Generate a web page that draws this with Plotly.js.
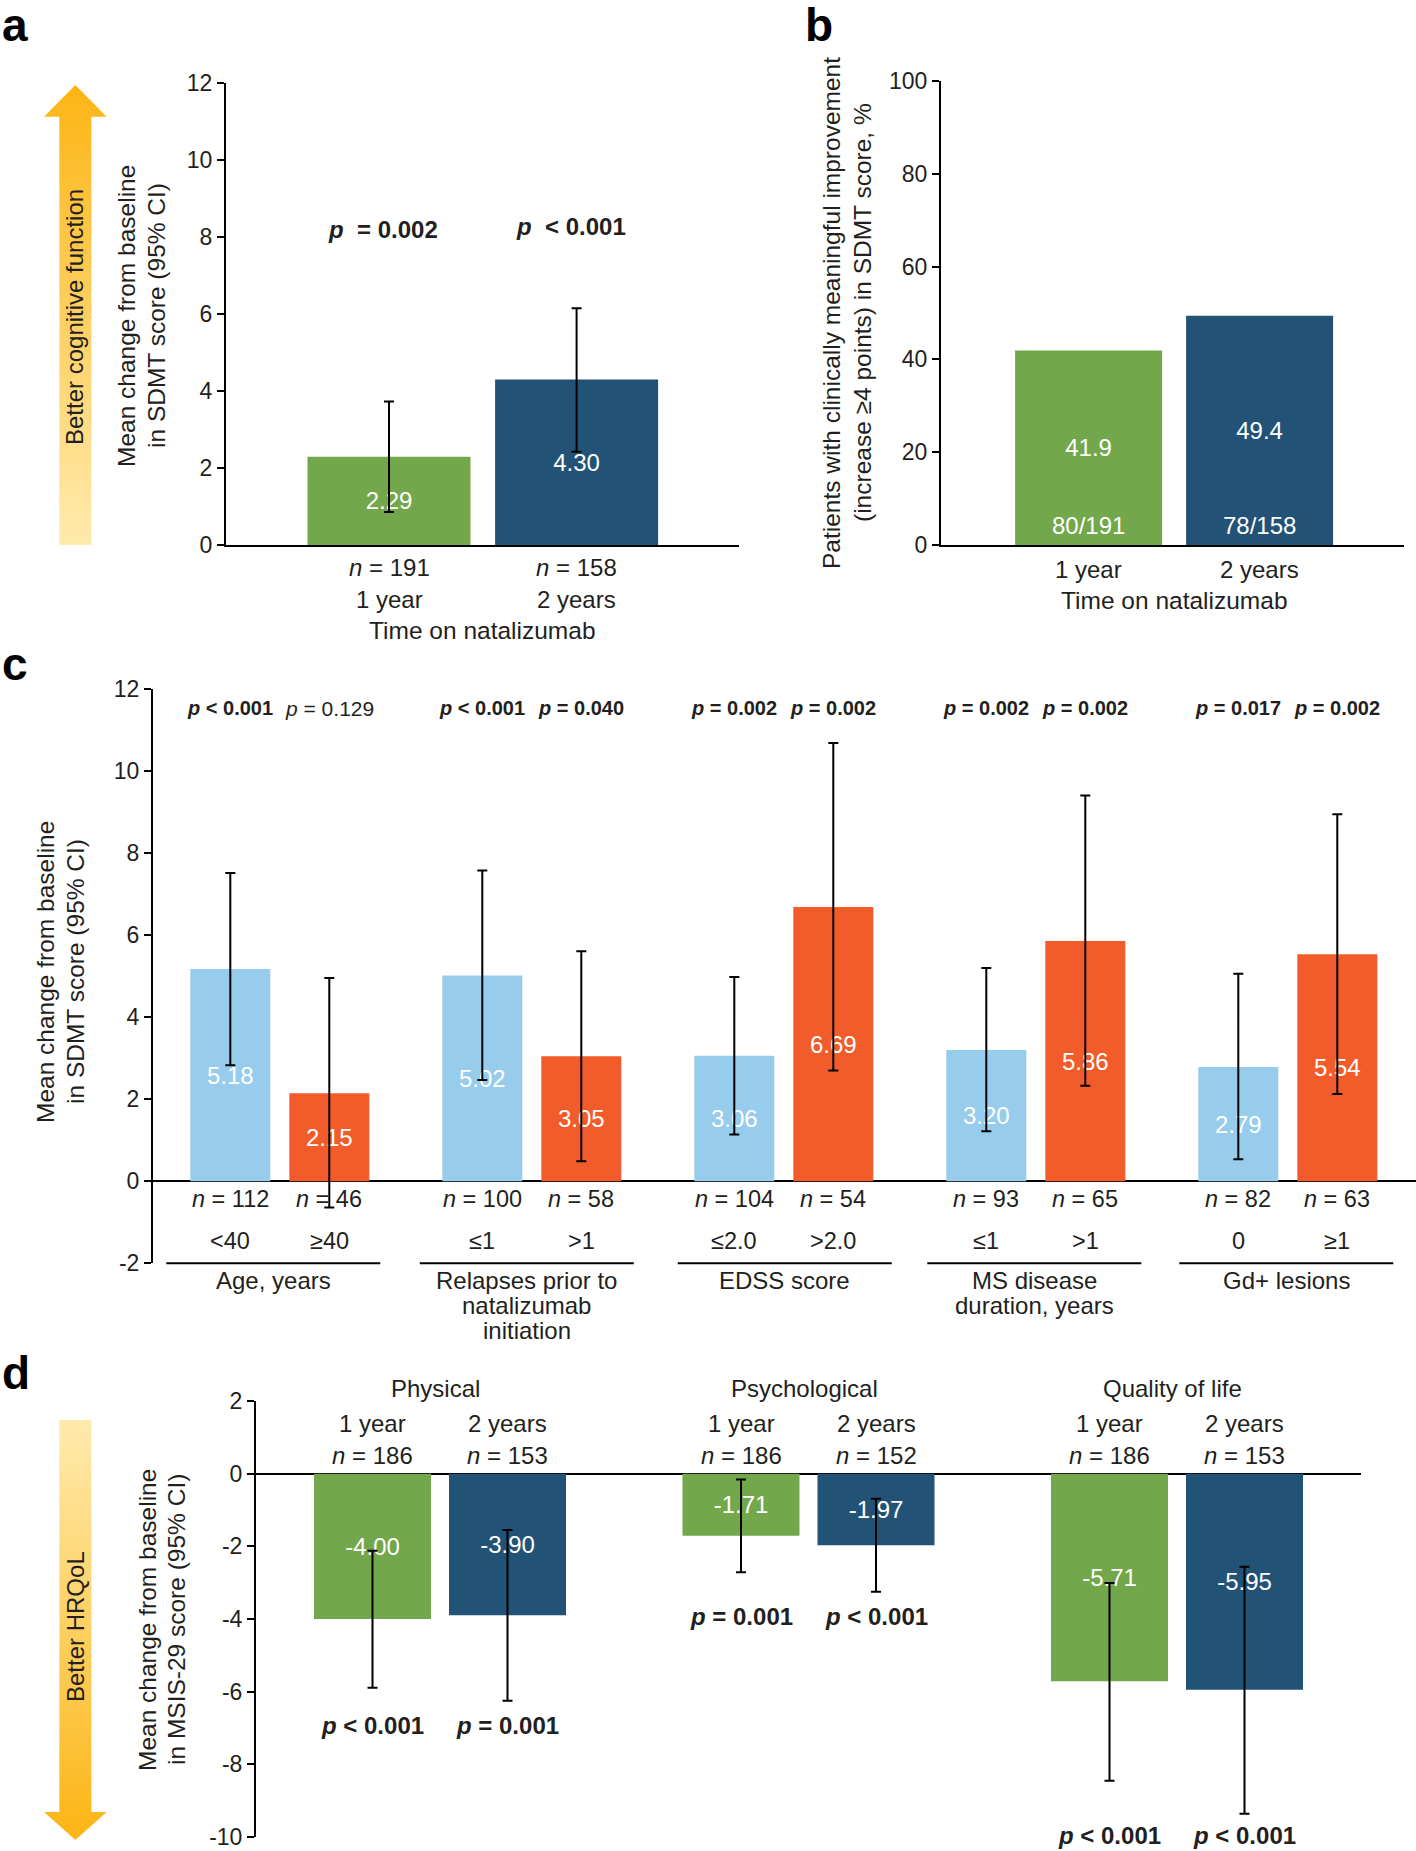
<!DOCTYPE html>
<html><head><meta charset="utf-8">
<script src="https://cdn.plot.ly/plotly-3.0.1.min.js"></script>
<style>html,body{margin:0;padding:0;background:#fff}#chart{width:1416px;height:1851px}</style>
</head><body><div id="chart"></div>
<script>
// ================= DATA =================
// Panel a: mean change in SDMT score
const aTimes = ['1 year', '2 years'];
const aN = [191, 158];
const aMean = [2.29, 4.30];
const aCILow = [0.86, 2.42];
const aCIHigh = [3.73, 6.15];
const aP = ['= 0.002', '< 0.001'];

// Panel b: patients with clinically meaningful improvement, %
const bTimes = ['1 year', '2 years'];
const bPercent = [41.9, 49.4];
const bCounts = ['80/191', '78/158'];

// Panel c: subgroups
const cGroupLines = [['Age, years'], ['Relapses prior to', 'natalizumab', 'initiation'], ['EDSS score'], ['MS disease', 'duration, years'], ['Gd+ lesions']];
const cLowLabel = ['<40', '≤1', '≤2.0', '≤1', '0'];
const cHighLabel = ['≥40', '>1', '>2.0', '>1', '≥1'];
const cLowN = [112, 100, 104, 93, 82];
const cHighN = [46, 58, 54, 65, 63];
const cLowMean = [5.18, 5.02, 3.06, 3.20, 2.79];
const cHighMean = [2.15, 3.05, 6.69, 5.86, 5.54];
const cLowCILow = [2.83, 2.47, 1.14, 1.22, 0.54];
const cLowCIHigh = [7.52, 7.58, 4.98, 5.20, 5.06];
const cHighCILow = [-0.64, 0.49, 2.70, 2.33, 2.13];
const cHighCIHigh = [4.96, 5.61, 10.69, 9.41, 8.95];
const cLowP = ['< 0.001', '< 0.001', '= 0.002', '= 0.002', '= 0.017'];
const cHighP = ['= 0.129', '= 0.040', '= 0.002', '= 0.002', '= 0.002'];
const cLowSig = [true, true, true, true, true];
const cHighSig = [false, true, true, true, true];

// Panel d: MSIS-29
const dDomains = ['Physical', 'Psychological', 'Quality of life'];
const dTimes = ['1 year', '2 years'];
const d1Mean = [-4.00, -1.71, -5.71];
const d2Mean = [-3.90, -1.97, -5.95];
const d1CILow = [-5.89, -2.71, -8.45];
const d1CIHigh = [-2.12, -0.16, -3.01];
const d2CILow = [-6.25, -3.25, -9.36];
const d2CIHigh = [-1.55, -0.69, -2.56];
const d1N = [186, 186, 186];
const d2N = [153, 152, 153];
const d1P = ['< 0.001', '= 0.001', '< 0.001'];
const d2P = ['= 0.001', '< 0.001', '< 0.001'];

// ================= STYLE / GEOMETRY =================
const W = 1416, H = 1851;
const FONT = '"Liberation Sans", Arial, Helvetica, sans-serif';
const INK = '#231f20';
const GREEN = '#72a74b', NAVY = '#225275', LBLUE = '#97ccec', ORANGE = '#f25c2a';
const px = v => v / W;
const py = v => 1 - v / H;
const esc = s => s.replace(/</g, '&lt;').replace(/>/g, '&gt;');
const pLab = (s, bold, gap) => bold ? `<b><i>p</i>${gap ? '\u00A0 ' : ' '}${esc(s)}</b>` : `<i>p</i> ${esc(s)}`;
const nLab = n => `<i>n</i> = ${n}`;

const GA = {left: 226, right: 739, top: 83, bottom: 545, c0: 389, c1: 576.6, bar: 163};
const GB = {left: 941, right: 1404, top: 81, bottom: 545, c0: 1088.6, c1: 1259.6, bar: 147};
const GC = {left: 153, right: 1416, top: 689.3, bottom: 1263.3, first: 230.3, barStep: 99, groupStep: 252, bar: 80,
  labelShift: [-6.5, -5, 1, -1.5, -1.5]};
const GD = {left: 256, right: 1361, top: 1401, bottom: 1837, first: 372.5, barStep: 135, groupStep: 368.5, bar: 117};

function pairRange(g) { const u = g.c1 - g.c0; return [(g.left - g.c0) / u, 1 + (g.right - g.c1) / u]; }
function gridRange(g) { return [(g.left - g.first) / g.barStep, (g.right - g.first) / g.barStep]; }
const cPos = (gi, m) => gi * GC.groupStep / GC.barStep + m;
const dPos = (gi, m) => gi * GD.groupStep / GD.barStep + m;
const dYpx = v => GD.top + (2 - v) * (GD.bottom - GD.top) / 12;

// ================= TRACES =================
function bar(xs, ys, color, xa, ya, width, txt, low, high) {
  const t = {type: 'bar', x: xs, y: ys, xaxis: xa, yaxis: ya, width: xs.map(() => width),
    marker: {color: color, line: {width: 0}}, text: txt, textposition: 'inside', insidetextanchor: 'middle',
    textangle: 0, constraintext: 'none', insidetextfont: {family: FONT, size: 24, color: '#ffffff'},
    hoverinfo: 'skip', showlegend: false};
  if (low) t.error_y = {type: 'data', symmetric: false,
    array: high.map((h, i) => h - ys[i]), arrayminus: ys.map((y, i) => y - low[i]),
    color: '#000', thickness: 2, width: 5};
  return t;
}
const traces = [];
traces.push(bar(aTimes.map((_, i) => i), aMean, [GREEN, NAVY], 'x', 'y', GA.bar / (GA.c1 - GA.c0), aMean.map(v => v.toFixed(2)), aCILow, aCIHigh));
traces.push(bar(bTimes.map((_, i) => i), bPercent, [GREEN, NAVY], 'x2', 'y2', GB.bar / (GB.c1 - GB.c0), bPercent.map(v => v.toFixed(1)), null, null));
traces.push(bar(cLowMean.map((_, i) => cPos(i, 0)), cLowMean, LBLUE, 'x3', 'y3', GC.bar / GC.barStep, cLowMean.map(v => v.toFixed(2)), cLowCILow, cLowCIHigh));
traces.push(bar(cHighMean.map((_, i) => cPos(i, 1)), cHighMean, ORANGE, 'x3', 'y3', GC.bar / GC.barStep, cHighMean.map(v => v.toFixed(2)), cHighCILow, cHighCIHigh));
traces.push(bar(d1Mean.map((_, i) => dPos(i, 0)), d1Mean, GREEN, 'x4', 'y4', GD.bar / GD.barStep, d1Mean.map(v => v.toFixed(2)), d1CILow, d1CIHigh));
traces.push(bar(d2Mean.map((_, i) => dPos(i, 1)), d2Mean, NAVY, 'x4', 'y4', GD.bar / GD.barStep, d2Mean.map(v => v.toFixed(2)), d2CILow, d2CIHigh));

// ================= ANNOTATIONS =================
const ann = [];
function txt(text, x, y, o) {
  const base = {text: text, x: x, y: y, xref: 'paper', yref: 'paper', showarrow: false,
    xanchor: 'center', yanchor: 'middle', font: {family: FONT, size: 24, color: INK}};
  ann.push(Object.assign(base, o || {}));
}
const F = (size, color) => ({family: FONT, size: size, color: color || INK});

// panel letters
txt('<b>a</b>', px(0), py(25), {xanchor: 'left', font: F(46, '#000')});
txt('<b>b</b>', px(803), py(25), {xanchor: 'left', font: F(46, '#000')});
txt('<b>c</b>', px(0), py(664), {xanchor: 'left', font: F(46, '#000')});
txt('<b>d</b>', px(0), py(1373), {xanchor: 'left', font: F(46, '#000')});

// panel a
const aPY = [229, 227];
aTimes.forEach((t, i) => {
  txt(pLab(aP[i], true, true), i, py(aPY[i]), {xref: 'x', xshift: -6, font: F(24)});
  txt(nLab(aN[i]), i, py(567), {xref: 'x'});
  txt(t, i, py(599), {xref: 'x'});
});
txt('Time on natalizumab', 0.5, py(630), {xref: 'x', font: F(24.5)});
txt('Mean change from baseline', px(126), py(316), {textangle: -90, font: F(24.5)});
txt('in SDMT score (95% CI)', px(156), py(316), {textangle: -90, font: F(24.5)});
txt('Better cognitive function', px(75), py(317), {textangle: -90});

// panel b
bTimes.forEach((t, i) => {
  txt(bCounts[i], i, py(525), {xref: 'x2', font: F(24, '#ffffff')});
  txt(t, i, py(569), {xref: 'x2'});
});
txt('Time on natalizumab', 0.5, py(600), {xref: 'x2', font: F(24.5)});
txt('Patients with clinically meaningful improvement', px(831), py(313), {textangle: -90, font: F(24.5)});
txt('(increase ≥4 points) in SDMT score, %', px(862), py(313), {textangle: -90, font: F(24.5)});

// panel c
const shapes = [];
cGroupLines.forEach((lines, i) => {
  const x0 = cPos(i, 0), x1 = cPos(i, 1), mid = (x0 + x1) / 2 + GC.labelShift[i] / GC.barStep;
  txt(pLab(cLowP[i], cLowSig[i]), x0, py(708), {xref: 'x3', font: F(cLowSig[i] ? 20 : 21)});
  txt(pLab(cHighP[i], cHighSig[i]), x1, py(708), {xref: 'x3', font: F(cHighSig[i] ? 20 : 21)});
  txt(nLab(cLowN[i]), x0, py(1199), {xref: 'x3', font: F(23.5)});
  txt(nLab(cHighN[i]), x1, py(1199), {xref: 'x3', font: F(23.5)});
  txt(esc(cLowLabel[i]), x0, py(1241), {xref: 'x3', font: F(23.5)});
  txt(esc(cHighLabel[i]), x1, py(1241), {xref: 'x3', font: F(23.5)});
  lines.forEach((ln, k) => txt(ln, mid, py(1280 + k * 25), {xref: 'x3'}));
  shapes.push({type: 'line', xref: 'x3', yref: 'paper', x0: mid - 107 / GC.barStep, x1: mid + 107 / GC.barStep,
    y0: py(GC.bottom), y1: py(GC.bottom), line: {color: '#000', width: 2}});
});
txt('Mean change from baseline', px(46), py(972), {textangle: -90, font: F(24.5)});
txt('in SDMT score (95% CI)', px(76), py(972), {textangle: -90, font: F(24.5)});

// panel d
dDomains.forEach((dom, i) => {
  const x0 = dPos(i, 0), x1 = dPos(i, 1);
  txt(dom, (x0 + x1) / 2 - 0.03, py(1388), {xref: 'x4'});
  txt(dTimes[0], x0, py(1423), {xref: 'x4'});
  txt(dTimes[1], x1, py(1423), {xref: 'x4'});
  txt(nLab(d1N[i]), x0, py(1455), {xref: 'x4'});
  txt(nLab(d2N[i]), x1, py(1455), {xref: 'x4'});
  const rowY = Math.min(dYpx(Math.min(d1CILow[i], d2CILow[i])) + 25, H - 16);
  txt(pLab(d1P[i], true), x0, py(rowY), {xref: 'x4', font: F(24)});
  txt(pLab(d2P[i], true), x1, py(rowY), {xref: 'x4', font: F(24)});
});
txt('Mean change from baseline', px(147), py(1620), {textangle: -90, font: F(24.5)});
txt('in MSIS-29 score (95% CI)', px(176), py(1620), {textangle: -90, font: F(24.5)});
txt('Better HRQoL', px(75), py(1627), {textangle: -90});

// ================= ARROWS (decorative images) =================
function arrowSvg(up, w, h, headH, shaftW, tipColor, tailColor) {
  const s0 = (w - shaftW) / 2, s1 = s0 + shaftW, m = w / 2;
  let pts, g;
  if (up) {
    pts = [[m, 0], [w, headH], [s1, headH], [s1, h], [s0, h], [s0, headH], [0, headH]];
    g = `<stop offset="0" stop-color="${tipColor}"/><stop offset="1" stop-color="${tailColor}"/>`;
  } else {
    pts = [[s0, 0], [s1, 0], [s1, h - headH], [w, h - headH], [m, h], [0, h - headH], [s0, h - headH]];
    g = `<stop offset="0" stop-color="${tailColor}"/><stop offset="1" stop-color="${tipColor}"/>`;
  }
  const svg = `<svg xmlns="http://www.w3.org/2000/svg" width="${w}" height="${h}" viewBox="0 0 ${w} ${h}" preserveAspectRatio="none">` +
    `<defs><linearGradient id="g" x1="0" y1="0" x2="0" y2="1">${g}</linearGradient></defs>` +
    `<polygon points="${pts.map(p => p.join(',')).join(' ')}" fill="url(#g)"/></svg>`;
  return 'data:image/svg+xml;charset=utf-8,' + encodeURIComponent(svg);
}
const images = [
  {source: arrowSvg(true, 62.7, 460, 31.7, 32, '#fcb514', '#ffeaad'), xref: 'paper', yref: 'paper',
    x: px(44), y: py(85), sizex: 62.7 / W, sizey: 460 / H, xanchor: 'left', yanchor: 'top', sizing: 'stretch', layer: 'below'},
  {source: arrowSvg(false, 62.7, 420, 28, 32, '#fcb514', '#ffeaad'), xref: 'paper', yref: 'paper',
    x: px(44), y: py(1420), sizex: 62.7 / W, sizey: 420 / H, xanchor: 'left', yanchor: 'top', sizing: 'stretch', layer: 'below'}
];

// ================= AXES =================
function yAx(g, range, vals, anchor, zero) {
  return {domain: [py(g.bottom), py(g.top)], range: range, anchor: anchor,
    tickmode: 'array', tickvals: vals, ticktext: vals.map(String),
    ticks: 'outside', ticklen: 7, tickwidth: 2, tickcolor: '#000',
    showline: true, linecolor: '#000', linewidth: 2, showgrid: false,
    zeroline: !!zero, zerolinecolor: '#000', zerolinewidth: 2,
    ticklabeloverflow: 'allow',
    tickfont: F(23), fixedrange: true};
}
function xAx(g, range, anchor, line) {
  return {domain: [px(g.left), px(g.right)], range: range, anchor: anchor,
    showline: !!line, linecolor: '#000', linewidth: 2, showticklabels: false, ticks: '',
    showgrid: false, zeroline: false, fixedrange: true};
}
const layout = {
  width: W, height: H, margin: {l: 0, r: 0, t: 0, b: 0},
  paper_bgcolor: '#ffffff', plot_bgcolor: 'rgba(0,0,0,0)',
  font: {family: FONT, size: 22, color: INK},
  showlegend: false, barmode: 'overlay',
  xaxis: xAx(GA, pairRange(GA), 'y', true),
  yaxis: yAx(GA, [0, 12], [0, 2, 4, 6, 8, 10, 12], 'x', false),
  xaxis2: xAx(GB, pairRange(GB), 'y2', true),
  yaxis2: yAx(GB, [0, 100], [0, 20, 40, 60, 80, 100], 'x2', false),
  xaxis3: xAx(GC, gridRange(GC), 'y3', false),
  yaxis3: yAx(GC, [-2, 12], [-2, 0, 2, 4, 6, 8, 10, 12], 'x3', true),
  xaxis4: xAx(GD, gridRange(GD), 'y4', false),
  yaxis4: yAx(GD, [-10, 2], [-10, -8, -6, -4, -2, 0, 2], 'x4', true),
  annotations: ann, shapes: shapes, images: images
};
Plotly.newPlot('chart', traces, layout, {displayModeBar: false, staticPlot: true});
</script></body></html>
